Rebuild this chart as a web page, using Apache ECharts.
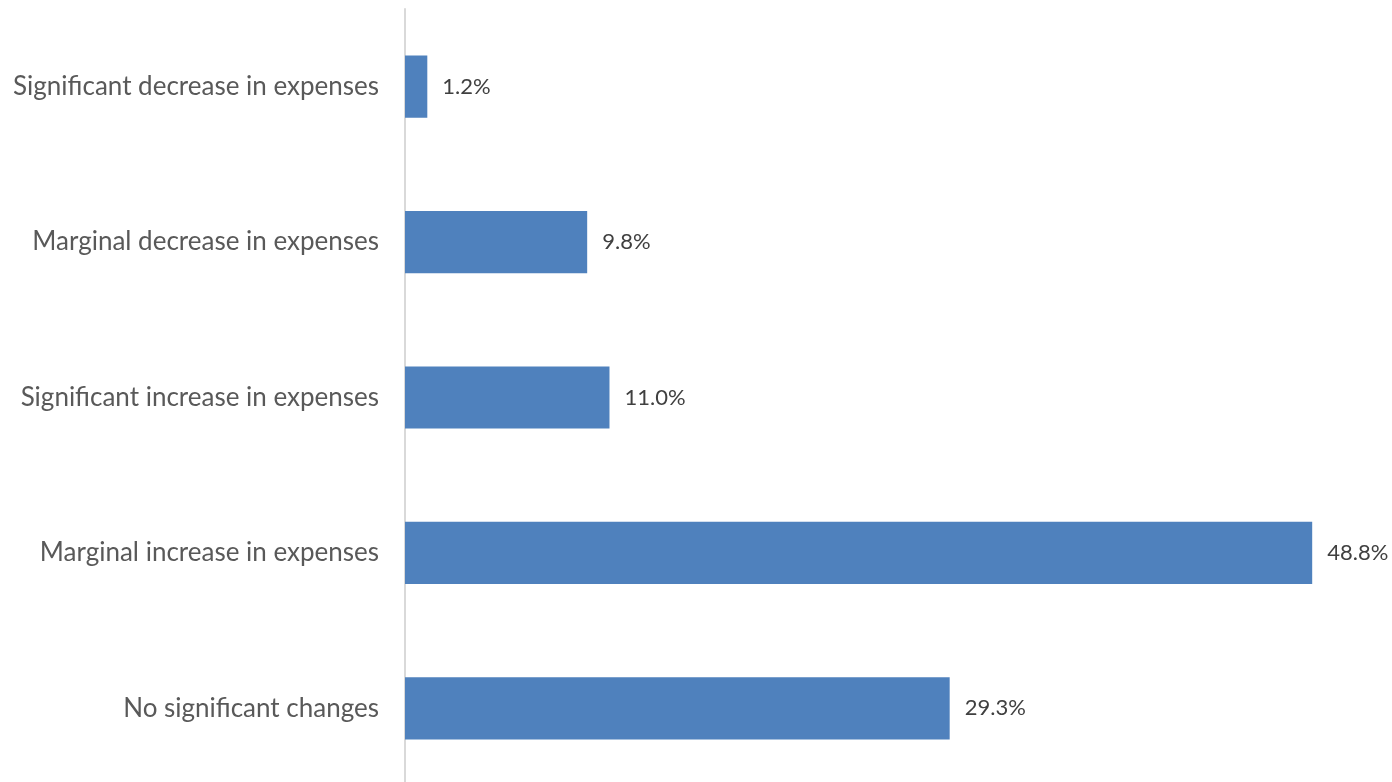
<!DOCTYPE html>
<html>
<head>
<meta charset="utf-8">
<script src="https://cdn.jsdelivr.net/npm/echarts@6/dist/echarts.min.js"></script>
<style>
html,body{margin:0;padding:0;background:#fff;}
#chart{width:1392px;height:782px;}
</style>
</head>
<body>
<div id="chart"></div>
<script>
const categories = [
  "No significant changes",
  "Marginal increase in expenses",
  "Significant increase in expenses",
  "Marginal decrease in expenses",
  "Significant decrease in expenses"
];
const values = [29.3, 48.8, 11.0, 9.8, 1.2];

const chart = echarts.init(document.getElementById('chart'));
chart.setOption({
  animation: false,
  grid: { left: 405, width: 929.5, top: 9, height: 777, outerBoundsMode: 'none' },
  xAxis: {
    type: 'value', min: 0, max: 50,
    show: false
  },
  yAxis: {
    type: 'category',
    data: categories,
    axisLine: { show: true, lineStyle: { color: '#d9d9d9', width: 2 } },
    axisTick: { show: false },
    axisLabel: { color: '#595959', fontFamily: 'Lato', fontSize: 26, margin: 26 }
  },
  series: [{
    type: 'bar',
    data: values,
    barWidth: '40%',
    itemStyle: { color: '#4f81bd' },
    label: {
      show: true, position: 'right', distance: 15,
      color: '#404040', fontFamily: 'Lato', fontSize: 22,
      formatter: p => p.value.toFixed(1) + '%'
    }
  }]
});
</script>
</body>
</html>
